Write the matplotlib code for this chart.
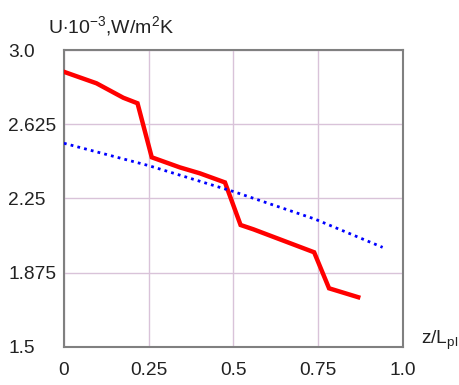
import matplotlib

matplotlib.use("Agg")
import matplotlib.pyplot as plt

# local heat transfer coefficient along the plate
z_red = [0.0, 0.096, 0.175, 0.217, 0.259, 0.342, 0.401, 0.475, 0.521, 0.559, 0.738, 0.782, 0.868]
u_red = [2.890, 2.832, 2.759, 2.731, 2.458, 2.407, 2.377, 2.331, 2.116, 2.094, 1.978, 1.796, 1.751]

z_blue = [0.0, 0.25, 0.5, 0.74, 0.94]
u_blue = [2.529, 2.416, 2.285, 2.146, 2.003]

x_ticks = [0, 0.25, 0.5, 0.75, 1.0]
x_labels = ["0", "0.25", "0.5", "0.75", "1.0"]
y_ticks = [1.5, 1.875, 2.25, 2.625, 3.0]
y_labels = ["1.5", "1.875", "2.25", "2.625", "3.0"]

plt.rcParams["font.family"] = ["Liberation Sans", "DejaVu Sans"]
plt.rcParams["mathtext.fontset"] = "custom"
plt.rcParams["mathtext.rm"] = "Liberation Sans"
plt.rcParams["mathtext.it"] = "Liberation Sans"

fig = plt.figure(figsize=(4.6, 3.85), dpi=100)
ax = fig.add_axes([0.139, 0.099, 0.737, 0.771])

ax.plot(z_red, u_red, color="#ff0000", linewidth=3.2, solid_joinstyle="miter", zorder=3)
ax.plot(z_blue, u_blue, color="#0000ff", linewidth=2.0, linestyle=(0, (1, 1.5)), zorder=3)

ax.set_xlim(0, 1.0)
ax.set_ylim(1.5, 3.0)
ax.set_xticks(x_ticks, x_labels)
ax.set_yticks(y_ticks, y_labels)
ax.grid(color="#d9c3d9", linewidth=1.0)
ax.tick_params(length=0, labelsize=13.8, colors="#222222")
ax.tick_params(axis="x", pad=11)
ax.tick_params(axis="y", pad=40)
for label in ax.get_yticklabels():
    label.set_horizontalalignment("left")
for spine in ax.spines.values():
    spine.set_color("#808080")
    spine.set_linewidth(1.5)

fig.text(48 / 460, 1 - 26 / 385, r"U$\cdot$10$^{-3}$,W/m$^2$K", fontsize=14,
         color="#222222", va="center", ha="left")
fig.text(421 / 460, 1 - 340 / 385, r"z/L$_{\mathrm{pl}}$", fontsize=13.8,
         color="#222222", va="center", ha="left")

fig.savefig("out.png", dpi=100)
